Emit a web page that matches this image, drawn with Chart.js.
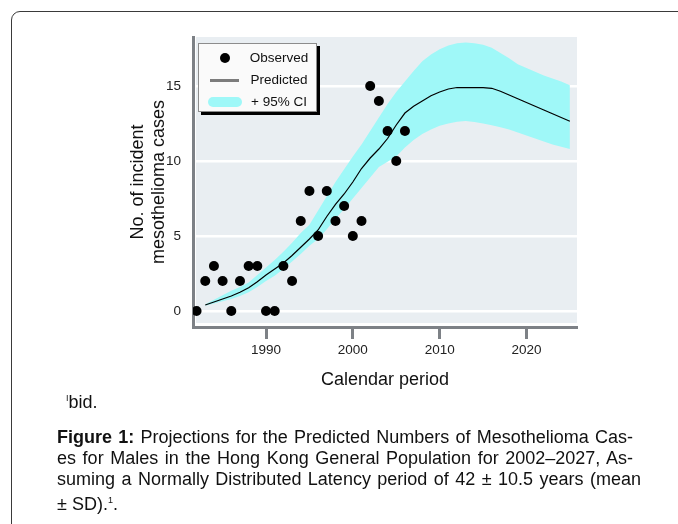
<!DOCTYPE html>
<html>
<head>
<meta charset="UTF-8">
<title>Mesothelioma projections</title>
<script src="https://cdn.jsdelivr.net/npm/chart.js"></script>
<style>
    body {
        margin: 0;
        width: 678px;
        height: 524px;
        overflow: hidden;
        position: relative;
        background: #fff;
        font-family: 'Liberation Sans', Arial, sans-serif;
        color: #111;
    }
    .card {
        position: absolute;
        left: 11px;
        top: 11px;
        width: 720px;
        height: 600px;
        border: 1.5px solid #3a3a3a;
        border-radius: 9px;
    }
    #chart { position: absolute; left: 0; top: 0; }
    #legend {
        position: absolute;
        left: 198px;
        top: 43px;
        width: 119px;
        height: 69px;
        box-sizing: border-box;
        border: 1px solid #8c8c8c;
        background: #fafafa;
        box-shadow: 3px 3px 0 #000;
        font-size: 13.5px;
    }
    .item { position: absolute; left: 0; width: 119px; height: 22px; }
    .mark { position: absolute; }
    .label { position: absolute; left: 44px; width: 72px; text-align: center; line-height: 22px; }
    .ibid { position: absolute; left: 66px; top: 388px; font-size: 18px; line-height: 21px; }
    .ibid span { font-size: 9px; vertical-align: 7px; }
    .cap { position: absolute; left: 57px; font-size: 18px; line-height: 21px; white-space: nowrap; }
    .just { text-align: justify; text-align-last: justify; }
    .cap sup { font-size: 9px; }
</style>
</head>
<body>
<div class="card"></div>
<canvas id="chart" width="678" height="524"></canvas>
<div id="legend"></div>

<div class="ibid"><span>I</span>bid.</div>
<div class="cap just" style="top:427px; width:576px"><b>Figure 1:</b> Projections for the Predicted Numbers of Mesothelioma Cas-</div>
<div class="cap just" style="top:448px; width:576px">es for Males in the Hong Kong General Population for 2002–2027, As-</div>
<div class="cap just" style="top:469px; width:584px">suming a Normally Distributed Latency period of 42 ± 10.5 years (mean</div>
<div class="cap" style="top:490px">± SD).<sup>1</sup>.</div>

<script>
    // observed cases per year
    const obsYears = [1982, 1983, 1984, 1985, 1986, 1987, 1988, 1989, 1990, 1991, 1992, 1993,
        1994, 1995, 1996, 1997, 1998, 1999, 2000, 2001, 2002, 2003, 2004, 2005, 2006];
    const obsCases = [0, 2, 3, 2, 0, 2, 3, 3, 0, 0, 3, 2, 6, 8, 5, 8, 6, 7, 5, 6, 15, 14, 12, 10, 12];

    // model projection 1983-2025
    const projYears = [];
    for (let y = 1983; y <= 2025; y++) projYears.push(y);
    const predicted = [0.4, 0.6, 0.8, 1.0, 1.25, 1.55, 1.95, 2.4, 2.8, 3.2, 3.7, 4.25, 4.8, 5.4, 6.3,
        7.1, 7.8, 8.6, 9.5, 10.2, 10.8, 11.5, 12.4, 13.2, 13.65, 14.0, 14.35, 14.6, 14.8, 14.9,
        14.9, 14.9, 14.9, 14.85, 14.65, 14.4, 14.15, 13.9, 13.65, 13.4, 13.15, 12.9, 12.65];
    const ciUpper = [0.45, 0.75, 1.05, 1.35, 1.6, 1.9, 2.4, 2.9, 3.4, 3.95, 4.55, 5.2, 5.75, 6.7, 7.65,
        8.6, 9.45, 10.3, 11.1, 12.0, 12.9, 13.8, 14.6, 15.3, 16.0, 16.65, 17.1, 17.45, 17.7, 17.85,
        17.9, 17.85, 17.75, 17.55, 17.2, 16.85, 16.45, 16.2, 15.95, 15.7, 15.5, 15.3, 15.05];
    const ciLower = [0.35, 0.5, 0.65, 0.8, 1.0, 1.25, 1.6, 2.0, 2.35, 2.8, 3.3, 3.8, 4.35, 4.8, 5.45,
        6.15, 6.8, 7.5, 8.2, 8.9, 9.6, 9.95, 10.3, 10.9, 11.4, 11.8, 12.1, 12.35, 12.5, 12.62,
        12.67, 12.6, 12.5, 12.38, 12.25, 12.1, 11.9, 11.7, 11.5, 11.3, 11.1, 10.95, 10.8];

    const xTicks = [1990, 2000, 2010, 2020];
    const yTicks = [0, 5, 10, 15];

    const axisGray = '#7d8186';
    const ciColor = '#9ff8f8';

    const toXY = (xs, ys) => xs.map((x, i) => ({x: x, y: ys[i]}));

    // paints the grey-blue panel behind the data
    const panel = {
        id: 'panel',
        beforeDraw(chart) {
            const a = chart.chartArea;
            const ctx = chart.ctx;
            ctx.save();
            ctx.fillStyle = '#e9eef2';
            ctx.fillRect(a.left + 3, a.top, a.right - a.left - 3, a.bottom - a.top - 4);
            ctx.restore();
        }
    };

    // html legend with the boxed shadow look
    const htmlLegend = {
        id: 'htmlLegend',
        afterInit(chart) {
            const box = document.getElementById('legend');
            box.innerHTML = '';
            let row = 0;
            chart.data.datasets.forEach(ds => {
                if (!ds.label) return;
                const item = document.createElement('div');
                item.className = 'item';
                item.style.top = (3 + row * 22) + 'px';
                const mark = document.createElement('div');
                mark.className = 'mark';
                if (ds.showLine === false) {
                    Object.assign(mark.style, {left: '21px', top: '6px', width: '10px', height: '10px',
                        borderRadius: '50%', background: ds.pointBackgroundColor});
                } else if (ds.fill) {
                    Object.assign(mark.style, {left: '9px', top: '6px', width: '34px', height: '10px',
                        borderRadius: '5px', background: ds.backgroundColor});
                } else {
                    Object.assign(mark.style, {left: '11px', top: '10px', width: '29px', height: '3px',
                        background: '#7c7c7c'});
                }
                const label = document.createElement('div');
                label.className = 'label';
                label.textContent = ds.label;
                item.appendChild(mark);
                item.appendChild(label);
                box.appendChild(item);
                row++;
            });
        }
    };

    new Chart(document.getElementById('chart'), {
        type: 'line',
        data: {
            datasets: [{
                label: 'Observed',
                data: toXY(obsYears, obsCases),
                showLine: false,
                pointRadius: 5,
                pointBackgroundColor: '#000',
                pointBorderWidth: 0
            }, {
                label: 'Predicted',
                data: toXY(projYears, predicted),
                borderColor: '#000',
                borderWidth: 1.2,
                pointRadius: 0,
                fill: false
            }, {
                label: '+ 95% CI',
                data: toXY(projYears, ciUpper),
                borderWidth: 0,
                borderColor: 'rgba(0,0,0,0)',
                backgroundColor: ciColor,
                pointRadius: 0,
                fill: '+1'
            }, {
                label: '',
                data: toXY(projYears, ciLower),
                borderWidth: 0,
                borderColor: 'rgba(0,0,0,0)',
                pointRadius: 0,
                fill: false
            }]
        },
        options: {
            responsive: false,
            animation: false,
            devicePixelRatio: 1,
            layout: { padding: { left: 127, top: 37, right: 101, bottom: 133 } },
            plugins: {
                legend: { display: false },
                tooltip: { enabled: false }
            },
            scales: {
                x: {
                    type: 'linear',
                    min: 1981.59,
                    max: 2025.82,
                    afterBuildTicks: s => { s.ticks = xTicks.map(v => ({value: v})); },
                    afterFit: s => { s.height = 64; },
                    border: { display: true, color: axisGray, width: 3 },
                    grid: { drawOnChartArea: false, drawTicks: true, tickLength: 12, tickWidth: 3, tickColor: axisGray },
                    ticks: {
                        padding: 3,
                        color: '#222',
                        maxRotation: 0,
                        font: { family: 'Liberation Sans', size: 13.5 },
                        callback: v => String(v)
                    },
                    title: {
                        display: true,
                        text: 'Calendar period',
                        color: '#111',
                        padding: 0,
                        font: { family: 'Liberation Sans', size: 18, lineHeight: 1.2 }
                    }
                },
                y: {
                    min: -1.07,
                    max: 18.27,
                    afterBuildTicks: s => { s.ticks = yTicks.map(v => ({value: v})); },
                    afterFit: s => { s.width = 66; },
                    border: { display: true, color: axisGray, width: 3 },
                    grid: { color: '#fff', lineWidth: 2.5, drawTicks: false },
                    ticks: {
                        padding: 12,
                        color: '#222',
                        font: { family: 'Liberation Sans', size: 13.5 }
                    },
                    title: {
                        display: true,
                        text: ['No. of incident', 'mesothelioma cases'],
                        color: '#111',
                        padding: 0,
                        font: { family: 'Liberation Sans', size: 18, lineHeight: 1.2 }
                    }
                }
            }
        },
        plugins: [panel, htmlLegend]
    });
</script>
</body>
</html>
